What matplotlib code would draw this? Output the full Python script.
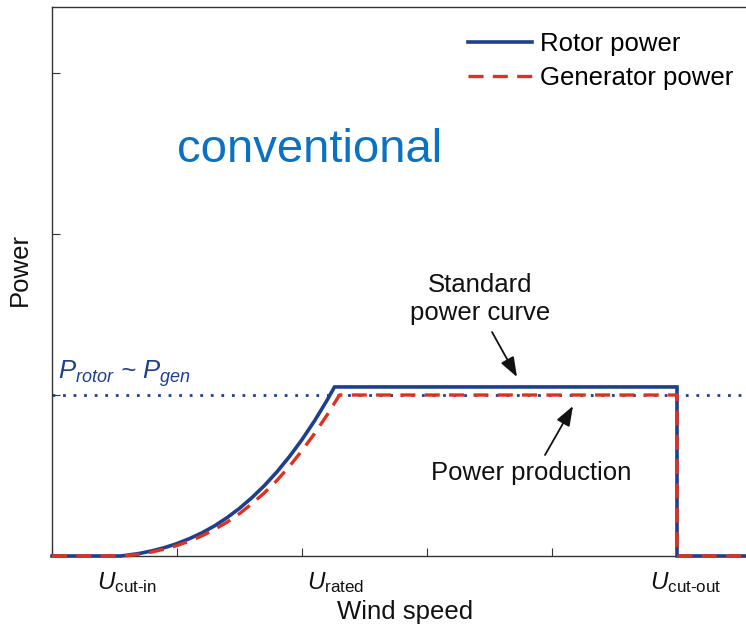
import matplotlib
matplotlib.use("Agg")
import matplotlib.pyplot as plt

plt.rcParams['font.family'] = ['Liberation Sans', 'DejaVu Sans']
plt.rcParams['mathtext.fontset'] = 'custom'
plt.rcParams['mathtext.rm'] = 'Liberation Sans'
plt.rcParams['mathtext.it'] = 'Liberation Sans:italic'

# Wind speed (arbitrary units) and power (rated power = 1)
rotor_speed = [0.0, 0.55, 0.6, 0.7, 0.8, 0.9, 1.0, 1.1, 1.2, 1.3, 1.4, 1.5, 1.6,
               1.7, 1.8, 1.9, 2.0, 2.1, 2.2, 2.26, 5.0, 5.0, 6.0]
rotor_power = [0.0, 0.0, 0.005, 0.016, 0.032, 0.052, 0.077, 0.108, 0.144, 0.187,
               0.238, 0.296, 0.363, 0.438, 0.523, 0.618, 0.723, 0.839, 0.967,
               1.05, 1.05, 0.0, 0.0]

gen_speed = [0.0, 0.58, 0.7, 0.8, 0.9, 1.0, 1.1, 1.2, 1.3, 1.4, 1.5, 1.6, 1.7,
             1.8, 1.9, 2.0, 2.1, 2.2, 2.30, 5.0, 5.0, 6.0]
gen_power = [0.0, 0.0, 0.012, 0.025, 0.043, 0.065, 0.093, 0.125, 0.165, 0.21,
             0.263, 0.325, 0.393, 0.47, 0.557, 0.655, 0.76, 0.875, 1.0, 1.0,
             0.0, 0.0]

rated_level = 1.0
u_marks = [0.6, 2.27, 5.07]
u_labels = [r'$U_{\mathrm{cut\text{-}in}}$', r'$U_{\mathrm{rated}}$',
            r'$U_{\mathrm{cut\text{-}out}}$']

navy = '#1d3f8e'
red = '#e0301e'
ink = '#111111'

W, H = 746, 632
fig = plt.figure(figsize=(W / 100, H / 100), dpi=100)
ax = fig.add_axes([52 / W, (H - 556) / H, 750 / W, 549 / H])
ax.set_xlim(0, 6)
ax.set_ylim(0, 3.41)


def px(x):
    return (x - 52) / 125


def py(y):
    return (556 - y) / 161


ax.axhline(rated_level, color=navy, lw=2.0, ls=(0, (1, 2.8)), zorder=2)
ax.plot(rotor_speed, rotor_power, color=navy, lw=2.6, label='Rotor power',
        solid_joinstyle='miter', zorder=3, clip_on=False)
ax.plot(gen_speed, gen_power, color=red, lw=2.4, ls=(0, (4.5, 2.8)),
        label='Generator power', zorder=4, clip_on=False)

ax.set_xticks(range(0, 7))
ax.set_yticks(range(0, 4))
ax.set_xticklabels([])
ax.set_yticklabels([])
ax.tick_params(direction='in', length=6, width=0.8, color='#333333')
for s in ax.spines.values():
    s.set_color('#333333')
    s.set_linewidth(1.0)

for u, lab in zip(u_marks, u_labels):
    ax.annotate(lab, xy=(u, 0), xytext=(0, -19), textcoords='offset points',
                ha='center', va='center', fontsize=17.5, color=ink,
                annotation_clip=False)

ax.set_ylabel('Power', fontsize=18.5, color=ink)
ax.yaxis.set_label_coords(-20 / 750, (556 - 270) / 549)
ax.set_xlabel('Wind speed', fontsize=18.5, color=ink)
ax.xaxis.set_label_coords((405 - 52) / 750, -44 / 549)

ax.text(0.05, py(389), r'$P_{rotor}$ ~ $P_{gen}$', fontsize=18.5, color=navy,
        ha='left', va='bottom', fontstyle='italic')

ax.text(px(310), py(150), 'conventional', fontsize=34,
        color='#0a72c4', ha='center', va='center')

ax.text(px(480), py(299), 'Standard\npower curve', ha='center', va='center',
        fontsize=18.5, color=ink, linespacing=1.22)
ax.text(px(531), py(473), 'Power production', ha='center', va='center',
        fontsize=18.5, color=ink)

arrow = dict(arrowstyle='-|>,head_length=0.6,head_width=0.22', color=ink, lw=1.3,
             mutation_scale=20, shrinkA=0, shrinkB=0)
ax.annotate('', xy=(px(517), py(377)), xytext=(px(492), py(332)), arrowprops=arrow)
ax.annotate('', xy=(px(573), py(406)), xytext=(px(545), py(455)), arrowprops=arrow)

ax.legend(loc='upper left', bbox_to_anchor=((468 - 52) / 750, (556 - 32) / 549),
          frameon=False, fontsize=18.5, handlelength=2.5, handletextpad=0.3,
          labelspacing=0.38, borderpad=0, borderaxespad=0)

fig.savefig('out.png', dpi=100)
